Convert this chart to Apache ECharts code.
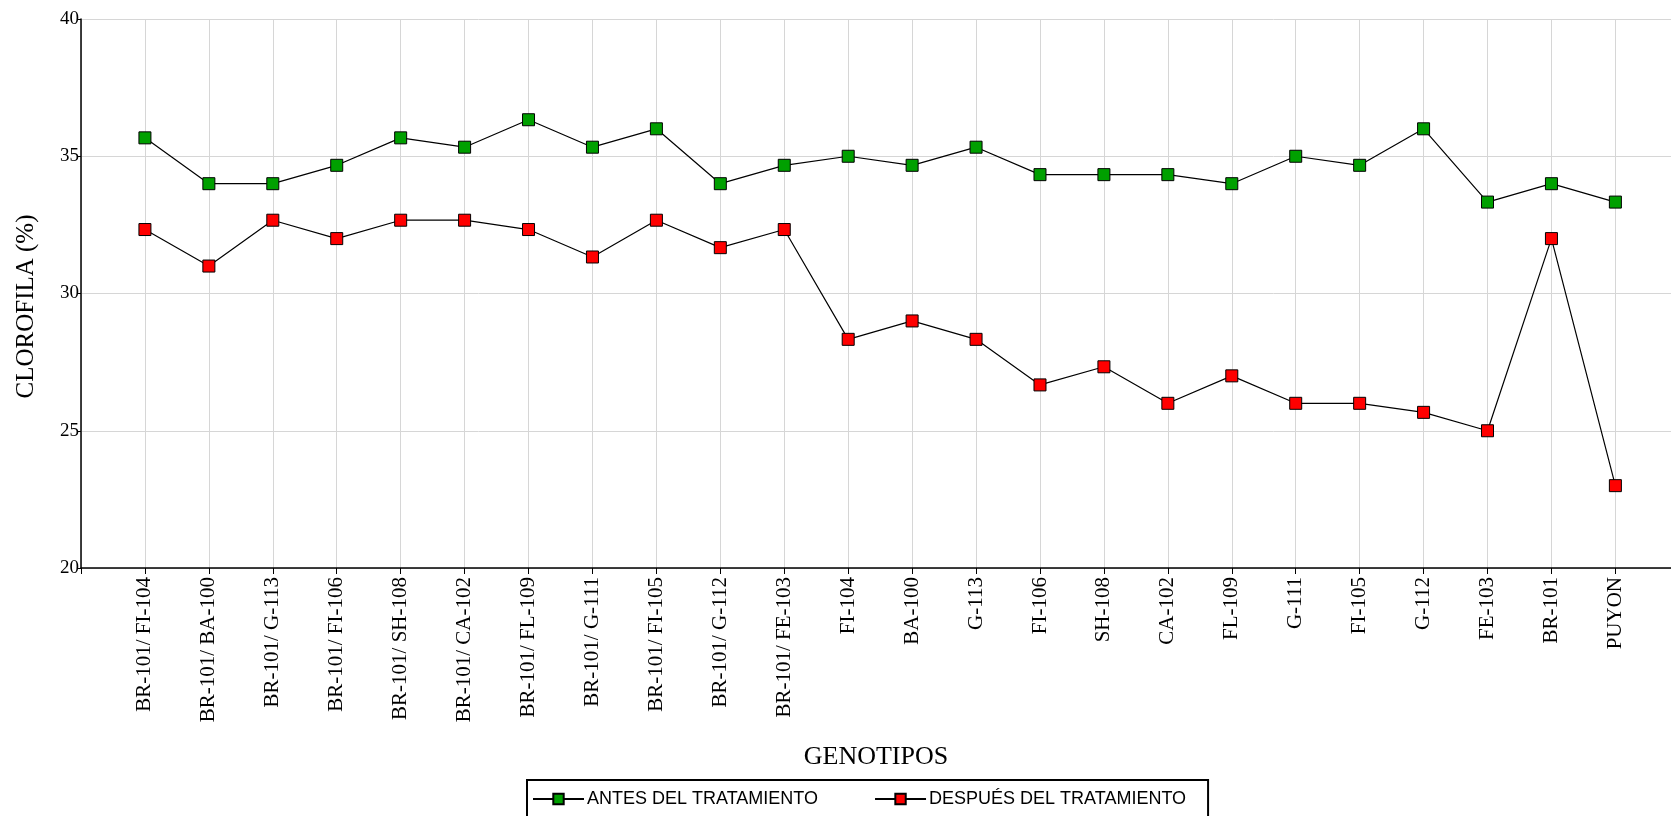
<!DOCTYPE html>
<html>
<head>
<meta charset="utf-8">
<script src="https://cdn.jsdelivr.net/npm/echarts@6/dist/echarts.min.js"></script>
<style>
  html, body { margin: 0; padding: 0; background: #fff; }
  #chart { width: 1671px; height: 816px; }
</style>
</head>
<body>
<div id="chart"></div>
<script>
// genotipos (eje X)
const genotipos = [
  'BR-101/ FI-104', 'BR-101/ BA-100', 'BR-101/ G-113', 'BR-101/ FI-106',
  'BR-101/ SH-108', 'BR-101/ CA-102', 'BR-101/ FL-109', 'BR-101/ G-111',
  'BR-101/ FI-105', 'BR-101/ G-112', 'BR-101/ FE-103', 'FI-104', 'BA-100',
  'G-113', 'FI-106', 'SH-108', 'CA-102', 'FL-109', 'G-111', 'FI-105',
  'G-112', 'FE-103', 'BR-101', 'PUYON'
]
// clorofila (%)
const antes = [
  35.67, 34.0, 34.0, 34.67, 35.67, 35.33, 36.33, 35.33, 36.0, 34.0, 34.67, 35.0,
  34.67, 35.33, 34.33, 34.33, 34.33, 34.0, 35.0, 34.67, 36.0, 33.33, 34.0, 33.33
]
const despues = [
  32.33, 31.0, 32.67, 32.0, 32.67, 32.67, 32.33, 31.33, 32.67, 31.67, 32.33, 28.33,
  29.0, 28.33, 26.67, 27.33, 26.0, 27.0, 26.0, 26.0, 25.67, 25.0, 32.0, 23.0
]
const yTicks = [20, 25, 30, 35, 40]

const serif = 'Liberation Serif'
const chart = echarts.init(document.getElementById('chart'))

function toPoints(arr) {
  return arr.map((v, i) => [i + 1, v])
}

function makeSeries(name, data, color) {
  return {
    name: name,
    type: 'line',
    data: toPoints(data),
    symbol: 'rect',
    symbolSize: 12,
    lineStyle: { color: '#000', width: 1.2 },
    itemStyle: { color: color, borderColor: '#000', borderWidth: 1 },
    emphasis: { disabled: true }
  }
}

chart.setOption({
  animation: false,
  grid: { left: 81, right: 0, top: 19, bottom: 248, outerBoundsMode: 'none', containLabel: false },
  legend: {
    left: 527,
    top: 780,
    orient: 'horizontal',
    borderColor: '#000',
    borderWidth: 2,
    padding: [10, 22, 9, 5],
    itemWidth: 51,
    itemHeight: 13,
    itemGap: 56,
    textStyle: { fontFamily: 'Liberation Sans', fontSize: 18, color: '#000', padding: [0, 0, 0, -2] },
    data: ['ANTES DEL TRATAMIENTO', 'DESPUÉS DEL TRATAMIENTO']
  },
  xAxis: {
    type: 'value',
    min: 0,
    max: 24.87,
    interval: 1,
    name: 'GENOTIPOS',
    nameLocation: 'middle',
    nameGap: 176,
    nameTextStyle: { fontFamily: serif, fontSize: 26, color: '#000' },
    axisLine: { show: true, lineStyle: { color: '#000', width: 1.5 } },
    axisTick: { show: true, length: 6, lineStyle: { color: '#000' } },
    axisLabel: {
      rotate: 90,
      margin: 9,
      fontFamily: serif,
      fontSize: 21,
      color: '#000',
      showMaxLabel: false,
      formatter: function (v) {
        return (Number.isInteger(v) && v >= 1 && v <= genotipos.length) ? genotipos[v - 1] : ''
      }
    },
    splitLine: { show: true, lineStyle: { color: '#d6d6d6', width: 1 } }
  },
  yAxis: {
    type: 'value',
    min: yTicks[0],
    max: yTicks[yTicks.length - 1],
    interval: 5,
    name: 'CLOROFILA (%)',
    nameLocation: 'middle',
    nameGap: 42,
    nameTextStyle: { fontFamily: serif, fontSize: 25, color: '#000', padding: [0, 26, 0, 0] },
    axisLine: { show: true, lineStyle: { color: '#000', width: 1.5 } },
    axisTick: { show: true, length: 4, lineStyle: { color: '#000' } },
    axisLabel: { margin: 2, fontFamily: serif, fontSize: 19, color: '#000' },
    splitLine: { show: true, lineStyle: { color: '#d6d6d6', width: 1 } }
  },
  series: [
    makeSeries('ANTES DEL TRATAMIENTO', antes, '#00a000'),
    makeSeries('DESPUÉS DEL TRATAMIENTO', despues, '#ff0000')
  ]
})
</script>
</body>
</html>
